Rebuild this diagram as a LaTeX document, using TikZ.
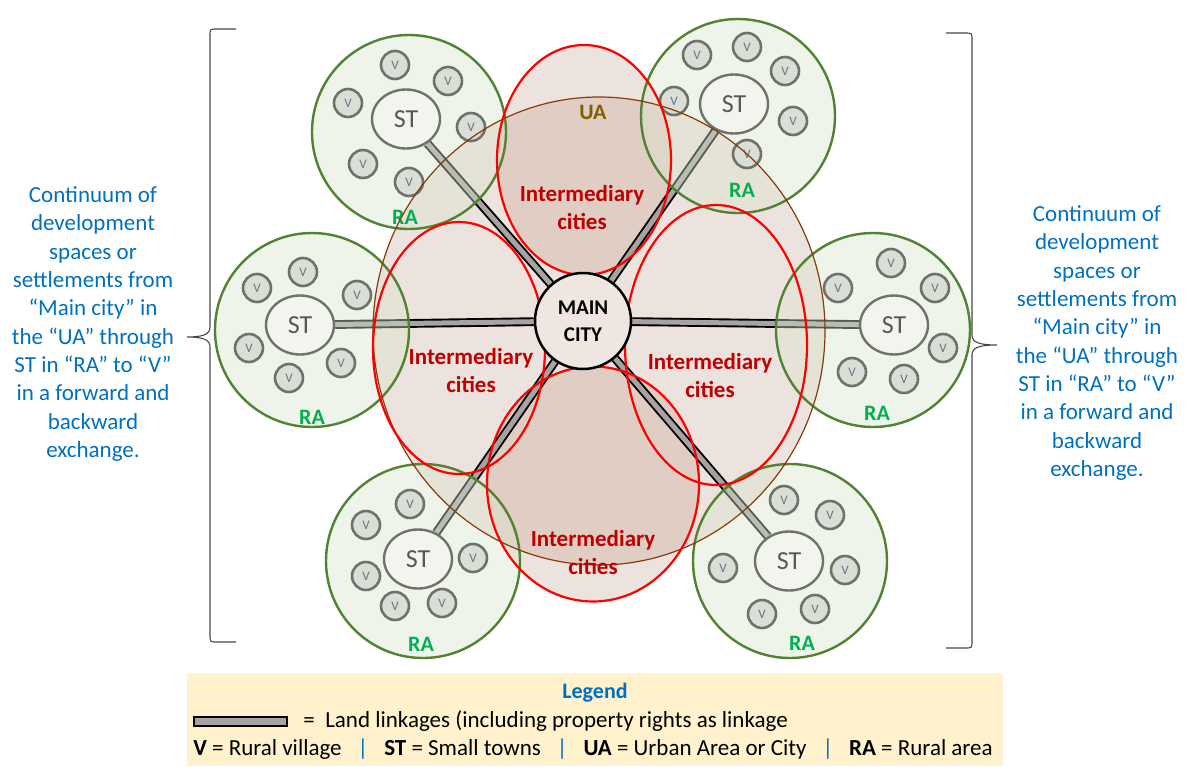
\documentclass[tikz,border=0pt]{standalone}
\usepackage{fontspec}
\setmainfont{Carlito}
\usepackage{tikz}
\usetikzlibrary{shapes.geometric,positioning}

\definecolor{textblue}{HTML}{0070C0}
\definecolor{darkred}{HTML}{C00000}
\definecolor{ragreen}{HTML}{548235}
\definecolor{ralabel}{HTML}{00B050}
\definecolor{rafill}{RGB}{214,228,204}
\definecolor{uabrown}{HTML}{843C0C}
\definecolor{uafill}{RGB}{185,143,122}
\definecolor{ualabel}{HTML}{7F6000}
\definecolor{vborder}{RGB}{112,113,106}
\definecolor{vfill}{RGB}{218,222,212}
\definecolor{vtext}{RGB}{100,116,140}
\definecolor{stfill}{RGB}{242,245,238}
\definecolor{sttext}{RGB}{88,88,88}
\definecolor{roadgray}{RGB}{168,163,163}
\definecolor{legendbg}{HTML}{FFF2CC}
\definecolor{citybg}{RGB}{239,229,225}
\definecolor{bracegray}{RGB}{70,70,70}

\pgfdeclarelayer{areas}
\pgfdeclarelayer{roads}
\pgfsetlayers{areas,roads,main}

\tikzset{
  rural/.style={circle,draw=ragreen,line width=2.4pt,fill=rafill,fill opacity=.4,minimum size=194pt,inner sep=0pt},
  village/.style={circle,draw=vborder,line width=2.6pt,fill=vfill,minimum size=28pt,inner sep=0pt,text=vtext,font=\fontsize{13}{13}\selectfont},
  town/.style={ellipse,draw=vborder,line width=2.4pt,fill=stfill,minimum width=68pt,minimum height=59pt,inner sep=0pt,text=sttext,font=\fontsize{26}{26}\selectfont},
  ralbl/.style={text=ralabel,font=\bfseries\fontsize{22}{22}\selectfont},
  tint/.style={fill=uafill,fill opacity=.25},
  interbox/.style={ellipse,draw=red,line width=2.2pt,inner sep=0pt},
  interlbl/.style={text=darkred,align=center,font=\bfseries\fontsize{23}{28}\selectfont},
  link/.style={draw=black,line width=1.9pt,double=roadgray,double distance=5pt},
  maincity/.style={circle,draw=black,line width=2.5pt,fill=citybg,minimum size=96pt,inner sep=0pt,align=center,font=\bfseries\fontsize{21}{27}\selectfont},
  sidetext/.style={text=textblue,align=center,font=\fontsize{23}{28.3}\selectfont},
  bracket/.style={draw=bracegray,line width=1.1pt},
  legendtext/.style={inner sep=0pt,font=\fontsize{23}{28}\selectfont},
  keybar/.style={draw=black,line width=2.5pt,fill=roadgray,minimum width=93pt,minimum height=9pt,inner sep=0pt}
}

\newcommand{\legsep}{\hspace{16pt}{\color{textblue}|}\hspace{16pt}}

\begin{document}
\begin{tikzpicture}[x=1pt,y=-1pt]
  \useasboundingbox (0,0) rectangle (1186,766);

  % tinted areas under everything
  \begin{pgfonlayer}{areas}
    \fill[tint] (599,331) ellipse [x radius=226,y radius=234];
    \fill[tint] (584,160) ellipse [x radius=87,y radius=115];
    \fill[tint] (593,484) ellipse [x radius=106,y radius=117.5];
  \end{pgfonlayer}

  % rural areas
  \node[rural] (ra1) at (409,132) {};
  \node[rural] (ra2) at (738,116) {};
  \node[rural] (ra3) at (312,330) {};
  \node[rural] (ra4) at (873,330) {};
  \node[rural] (ra5) at (423,561) {};
  \node[rural] (ra6) at (790,561) {};

  % villages
  \foreach \x/\y [count=\i] in {395/65,448/81,348/103,471/127,363/164,409/182}
    \node[village] (va\i) at (\x,\y) {V};
  \foreach \x/\y [count=\i] in {697/55,747/47,785/71,674/101,793/121,747/154}
    \node[village] (vb\i) at (\x,\y) {V};
  \foreach \x/\y [count=\i] in {303/272,257/288,357/295,249/348,341/363,289/378}
    \node[village] (vc\i) at (\x,\y) {V};
  \foreach \x/\y [count=\i] in {891/263,838/288,935/288,943/348,852/372,904/379}
    \node[village] (vd\i) at (\x,\y) {V};
  \foreach \x/\y [count=\i] in {410/504,366/525,473/558,366/576,442/603,395/606}
    \node[village] (ve\i) at (\x,\y) {V};
  \foreach \x/\y [count=\i] in {784/500,830/515,723/568,845/570,762/614,815/609}
    \node[village] (vf\i) at (\x,\y) {V};

  % small towns
  \node[town] (st1) at (406,119) {ST};
  \node[town] (st2) at (734,104) {ST};
  \node[town] (st3) at (300,325) {ST};
  \node[town] (st4) at (894,325) {ST};
  \node[town] (st5) at (418,559) {ST};
  \node[town] (st6) at (789,561) {ST};

  \node[ralbl] (lra1) at (405,217) {RA};
  \node[ralbl] (lra2) at (742,190) {RA};
  \node[ralbl] (lra3) at (312,417) {RA};
  \node[ralbl] (lra4) at (877,413) {RA};
  \node[ralbl] (lra5) at (421,644) {RA};
  \node[ralbl] (lra6) at (802,643) {RA};

  % urban area and intermediary cities
  \node[ellipse,draw=uabrown,line width=1.2pt,minimum width=452pt,minimum height=468pt,inner sep=0pt] (ua) at (599,331) {};
  \node[interbox,minimum width=174pt,minimum height=230pt] (ic1) at (584,160) {};
  \node[interbox,minimum width=212pt,minimum height=235pt] (ic2) at (593,484) {};
  \node[interbox,minimum width=172pt,minimum height=252pt] (ic3) at (459,348) {};
  \node[interbox,minimum width=182pt,minimum height=280pt] (ic4) at (716,345) {};

  \node[maincity] (mc) at (583,321) {MAIN\\CITY};

  \begin{pgfonlayer}{roads}
    \foreach \t in {1,...,6}
      \draw[link] (mc) -- (st\t);
  \end{pgfonlayer}

  \node[text=ualabel,font=\bfseries\fontsize{22}{22}\selectfont] (lua) at (593,112) {UA};
  \node[interlbl] (lic1) at (582,208) {Intermediary\\cities};
  \node[interlbl] (lic3) at (471,371) {Intermediary\\cities};
  \node[interlbl] (lic4) at (710,376) {Intermediary\\cities};
  \node[interlbl] (lic2) at (593,553) {Intermediary\\cities};

  % side notes and braces
  \node[sidetext] (lefttext) at (93,324) {Continuum of\\development\\spaces or\\settlements from\\“Main city” in\\the “UA” through\\ST in “RA” to “V”\\in a forward and\\backward\\exchange.};
  \node[sidetext] (righttext) at (1097,343) {Continuum of\\development\\spaces or\\settlements from\\“Main city” in\\the “UA” through\\ST in “RA” to “V”\\in a forward and\\backward\\exchange.};

  \draw[bracket] (236,29) -- (217,29) .. controls (210,29) .. (210,36) -- (210,327)
    .. controls (210,334) and (204,337) .. (187,337)
    .. controls (204,337) and (210,340) .. (210,347) -- (210,635)
    .. controls (210,642) .. (217,642) -- (236,642);
  \draw[bracket] (946,33) -- (965,33) .. controls (972,33) .. (972,40) -- (972,335)
    .. controls (972,342) and (978,345) .. (997,345)
    .. controls (978,345) and (972,348) .. (972,355) -- (972,641)
    .. controls (972,648) .. (965,648) -- (946,648);

  % legend
  \fill[legendbg] (187,673) rectangle (1003,766);
  \node[text=textblue,font=\bfseries\fontsize{22}{22}\selectfont] (legtitle) at (595,693) {Legend};
  \node[keybar] (keybar) at (240.5,721.5) {};
  \node[legendtext,right=15pt of keybar] (keytext) {= \ Land linkages (including property rights as linkage};
  \node[legendtext] (abbrev) at (593,749) {\textbf{V} = Rural village\legsep\textbf{ST} = Small towns\legsep\textbf{UA} = Urban Area or City\legsep\textbf{RA} = Rural area};
\end{tikzpicture}
\end{document}
